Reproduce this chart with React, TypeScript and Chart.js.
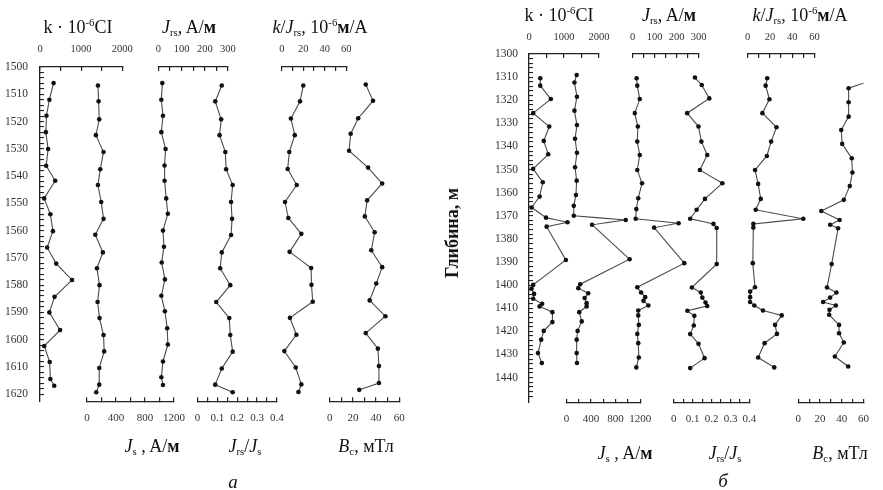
import React, { useEffect, useRef } from 'react';
import { Chart, registerables } from 'chart.js';

Chart.register(...registerables);

// ---------------- Panel а : depth 1500–1620 m ----------------
const a_k_depth = [1505.9, 1512, 1517.9, 1523.9, 1530.1, 1536.2, 1541.7, 1548.2, 1554, 1560.2, 1566.2, 1572.1, 1578.1, 1584.3, 1590, 1596.5, 1602.3, 1608.2, 1614.4, 1616.9];
const a_k = [331, 228, 157, 142, 197, 150, 370, 102, 252, 315, 173, 394, 780, 354, 228, 488, 102, 236, 252, 346];

const a_Js_depth = [1506.8, 1512.6, 1519.2, 1525, 1531.2, 1537.5, 1543.3, 1549.5, 1555.7, 1561.5, 1568, 1573.8, 1580, 1586.2, 1592.1, 1598.3, 1604.3, 1610.4, 1616.5, 1619.3];
const a_Js = [151, 160, 169, 123, 228, 183, 151, 196, 228, 114, 219, 137, 173, 146, 173, 228, 237, 169, 169, 128];

const a_Jrs_depth = [1505.9, 1512, 1517.9, 1523.9, 1530.1, 1536.1, 1541.7, 1548.2, 1553.8, 1560, 1565.9, 1571.7, 1577.9, 1583.9, 1589.6, 1595.8, 1601.8, 1608, 1613.8, 1616.6];
const a_Jrs = [16.8, 12.6, 19.6, 12.6, 30.8, 26.6, 26.6, 33.6, 40.7, 19.6, 23.8, 14, 28, 12.6, 28, 37.9, 40.7, 19.6, 12.6, 19.6];

const a_JJ_depth = [1506.8, 1512.6, 1519.2, 1525, 1531.2, 1537.5, 1543.3, 1549.5, 1555.7, 1561.6, 1568, 1573.8, 1580, 1586.2, 1592.1, 1598.3, 1604.4, 1610.6, 1616.5, 1619.3];
const a_JJ = [0.122, 0.089, 0.119, 0.111, 0.14, 0.144, 0.177, 0.169, 0.174, 0.169, 0.122, 0.114, 0.165, 0.094, 0.16, 0.165, 0.177, 0.122, 0.089, 0.177];

const a_kJ_depth = [1506.8, 1512.6, 1518.9, 1525, 1531.2, 1537.4, 1543.3, 1549.5, 1555.4, 1561.2, 1567.8, 1573.7, 1579.9, 1586.1, 1592, 1598.2, 1604.2, 1610.2, 1616.4, 1619.2];
const a_kJ = [20, 17, 8.5, 12.1, 7, 5.5, 13.9, 3, 6.1, 18.2, 7.3, 27.3, 27.6, 28.8, 7.6, 13.6, 2.4, 13, 18.2, 15.5];

const a_Bc_depth = [1506.4, 1512.4, 1518.8, 1524.5, 1530.7, 1536.9, 1542.7, 1548.9, 1554.8, 1560.6, 1567.2, 1573.4, 1579.4, 1585.6, 1591.4, 1597.6, 1603.3, 1609.7, 1615.9, 1618.4];
const a_Bc = [31.1, 37.4, 24.6, 18.1, 16.7, 33.1, 45.3, 32.3, 30.3, 38.8, 35.9, 45.3, 40.2, 34.5, 48.1, 31.1, 41.6, 42.5, 42.5, 25.5];

// ---------------- Panel б : depth 1300–1450 m ----------------
const b_k_depth = [1310.5, 1313.7, 1319.5, 1325.6, 1331.4, 1337.6, 1343.4, 1349.7, 1355.5, 1361.7, 1366.4, 1370.8, 1372.8, 1374.7, 1389.1, 1399.9, 1401.6, 1403.8, 1405.9, 1408.1, 1409.2, 1411.7, 1416, 1419.8, 1423.6, 1429.4, 1433.7];
const b_k = [322, 322, 624, 119, 578, 422, 550, 119, 394, 303, 73, 486, 1100, 503, 1054, 119, 73, 145, 119, 376, 303, 669, 669, 422, 349, 257, 367];

const b_Js_depth = [1309.1, 1312.3, 1318.5, 1324.5, 1330.7, 1336.7, 1342.7, 1349, 1354.8, 1361, 1365.7, 1370, 1371.8, 1373.9, 1388.8, 1399.6, 1401.3, 1403.5, 1405.6, 1407.8, 1409.2, 1411.7, 1415.7, 1419.8, 1423.6, 1429.4, 1433.7];
const b_Js = [167, 131, 172, 131, 172, 141, 172, 141, 167, 156, 120, 120, 965, 418, 1028, 225, 194, 355, 297, 329, 329, 209, 250, 183, 167, 167, 172];

const b_Jrs_depth = [1310.5, 1313.7, 1319.5, 1325.6, 1331.4, 1337.9, 1343.7, 1350.2, 1355.9, 1362.4, 1367.1, 1371.3, 1373.2, 1375.1, 1390.5, 1400.9, 1403.2, 1405.2, 1406.8, 1408.8, 1411, 1413.1, 1417.2, 1421.1, 1425.1, 1431.3, 1435.6];
const b_Jrs = [18.6, 21.6, 32.9, 10, 24.2, 21.6, 32.9, 21.6, 43.3, 26, 17.3, 14.3, 209, 97.9, 235, 21.6, 39, 57.6, 50, 71.9, 26, 26, 28.6, 21.6, 26, 28.6, 17.3];

const b_JJ_depth = [1310.2, 1313.4, 1319.2, 1325.6, 1331.4, 1337.9, 1343.7, 1350.2, 1355.9, 1362.7, 1367.4, 1371.3, 1373.5, 1375.3, 1390.9, 1401, 1403.2, 1405.4, 1407.5, 1409, 1411.1, 1413.3, 1417.5, 1421.2, 1425.4, 1431.6, 1435.9];
const b_JJ = [0.112, 0.148, 0.188, 0.071, 0.131, 0.146, 0.177, 0.138, 0.257, 0.165, 0.121, 0.087, 0.21, 0.227, 0.227, 0.096, 0.143, 0.151, 0.168, 0.177, 0.072, 0.109, 0.106, 0.087, 0.131, 0.163, 0.087];

const b_kJ_depth = [1310.5, 1313.7, 1319.6, 1325.6, 1331.7, 1337.9, 1344.1, 1350.2, 1356.2, 1362.7, 1367.4, 1371.3, 1373.5, 1375.1, 1390.5, 1400.9, 1402.8, 1405.2, 1407.3, 1408.8, 1411, 1413.1, 1417.2, 1421.1, 1425.1, 1431.3, 1435.6];
const b_kJ = [17.6, 16.2, 19.6, 13.3, 25.9, 21.1, 17.3, 6.7, 9.5, 11.8, 7.3, 49.9, 5.2, 5.2, 4.7, 6.7, 2.3, 2.3, 2.3, 6.1, 13.8, 30.6, 24.6, 26.3, 15.3, 9.5, 23.9];

const b_Bc_depth = [1312, 1314.8, 1320.9, 1327.1, 1332.9, 1338.9, 1345.1, 1351.3, 1357.1, 1363.1, 1367.9, 1371.8, 1373.9, 1375.4, 1390.9, 1401, 1403.2, 1405.4, 1407.3, 1408.8, 1410.7, 1412.8, 1417.2, 1420.8, 1424.8, 1430.9, 1435.2];
const b_Bc = [63.9, 46.3, 46.3, 46.3, 39.5, 40.4, 49.2, 49.8, 47.4, 41.9, 21.1, 38, 29.3, 36.6, 30.7, 26.4, 35.1, 29.3, 22.8, 34.5, 28.7, 28.4, 37.5, 37.5, 41.9, 33.6, 45.9];

// ---------------- Axis ranges / ticks ----------------
const k_range = [0, 2000]; const k_step = 500; const k_label = 1000;
const Jrs_range = [0, 300]; const Jrs_step = 50; const Jrs_label = 100;
const kJ_range = [0, 60]; const kJ_step = 10; const kJ_label = 20;
const Js_range = [0, 1200]; const Js_step = 200; const Js_label = 400;
const JJ_range = [0, 0.4]; const JJ_step = 0.05; const JJ_label = 0.1;
const Bc_range = [0, 60]; const Bc_step = 10; const Bc_label = 20;
const depthA_range = [1500, 1620];
const depthB_range = [1300, 1450];
const depth_step = 2; const depth_label = 10;

const AXES: Record<string, { range: number[]; step: number; label: number }> = {
  k: { range: k_range, step: k_step, label: k_label },
  Jrs: { range: Jrs_range, step: Jrs_step, label: Jrs_label },
  kJ: { range: kJ_range, step: kJ_step, label: kJ_label },
  Js: { range: Js_range, step: Js_step, label: Js_label },
  JJ: { range: JJ_range, step: JJ_step, label: JJ_label },
  Bc: { range: Bc_range, step: Bc_step, label: Bc_label },
};

// ---------------- Layout (pixels) ----------------
const SERIF = "'Liberation Serif', 'DejaVu Serif', 'Times New Roman', serif";
const INK = '#222';

const LAYOUT_A = {
  left: 0, width: 430,
  padding: { top: 37, bottom: 63, left: 0, right: 18 },
  yWidth: 40, yPad: 16, topPad: 15.4, bottomPad: 14,
  depth: depthA_range, extraBottom: 2.6,
  top: [['k', 84], [null, 37], ['Jrs', 71], [null, 55], ['kJ', 66], [null, 59]] as [string | null, number][],
  bottom: [[null, 48], ['Js', 89], [null, 24], ['JJ', 81], [null, 54], ['Bc', 71], [null, 5]] as [string | null, number][],
};
const LAYOUT_B = {
  left: 450, width: 450,
  padding: { top: 24, bottom: 57, left: 0, right: 10 },
  yWidth: 79, yPad: 15, topPad: 14, bottomPad: 14,
  depth: depthB_range, extraBottom: 1.0,
  top: [['k', 73], [null, 35], ['Jrs', 69], [null, 51], ['kJ', 70], [null, 63]] as [string | null, number][],
  bottom: [[null, 39], ['Js', 77], [null, 35], ['JJ', 79], [null, 51], ['Bc', 68], [null, 12]] as [string | null, number][],
};

const isMultiple = (v: number, m: number) => Math.abs(v / m - Math.round(v / m)) < 1e-6;
const fmt = (v: number) => String(Math.round(v * 100) / 100);

function axisOptions(key: string, position: 'top' | 'bottom', w: number, weight: number, pad: number) {
  const spec = AXES[key];
  return {
    type: 'linear', position, stack: position, stackWeight: w, weight,
    min: spec.range[0], max: spec.range[1],
    afterFit: (s: any) => { s.height = 30; },
    border: { display: true, color: INK, width: 1.3 },
    grid: { display: true, drawOnChartArea: false, drawTicks: true, tickLength: -4, color: INK, lineWidth: 1.2 },
    ticks: {
      stepSize: spec.step, autoSkip: false, maxRotation: 0, minRotation: 0, padding: pad,
      color: '#333', font: { family: SERIF, size: position === 'top' ? 10.5 : 11 },
      callback: (v: any) => (isMultiple(Number(v), spec.label) ? fmt(Number(v)) : ''),
    },
  };
}
function spacer(position: 'top' | 'bottom', w: number, weight: number) {
  return { type: 'linear', position, stack: position, stackWeight: w, weight, display: false, min: 0, max: 1 };
}

function buildScales(L: typeof LAYOUT_A) {
  const scales: any = {
    y: {
      type: 'linear', position: 'left', reverse: true,
      min: L.depth[0], max: L.depth[1] + L.extraBottom,
      afterFit: (s: any) => { s.width = L.yWidth; },
      afterBuildTicks: (s: any) => { s.ticks = s.ticks.filter((t: any) => t.value <= L.depth[1] + 1e-6); },
      border: { display: true, color: INK, width: 1.3 },
      grid: { display: true, drawOnChartArea: false, drawTicks: true, tickLength: -4, color: INK, lineWidth: 1.1 },
      ticks: {
        stepSize: depth_step, autoSkip: false, padding: L.yPad, color: '#333',
        font: { family: SERIF, size: 11.5 },
        callback: (v: any) => (isMultiple(Number(v), depth_label) ? String(Math.round(Number(v))) : ''),
      },
    },
  };
  L.top.forEach(([key, w], i) => {
    const weight = L.top.length - i;
    scales[key ? 'x_' + key : 'sp_top_' + i] = key ? axisOptions(key, 'top', w, weight, L.topPad) : spacer('top', w, weight);
  });
  L.bottom.forEach(([key, w], i) => {
    const weight = i + 1;
    scales[key ? 'x_' + key : 'sp_bot_' + i] = key ? axisOptions(key, 'bottom', w, weight, L.bottomPad) : spacer('bottom', w, weight);
  });
  return scales;
}

function series(key: string, depths: number[], values: number[]) {
  return {
    data: depths.map((d, i) => ({ x: values[i], y: d })),
    xAxisID: 'x_' + key, yAxisID: 'y',
    borderColor: '#4a4a4a', borderWidth: 1.1, tension: 0.00001, fill: false,
    pointRadius: 2.3, pointBackgroundColor: '#111', pointBorderWidth: 0, pointHoverRadius: 0,
  };
}

const DATA_A = [
  series('k', a_k_depth, a_k), series('Js', a_Js_depth, a_Js), series('Jrs', a_Jrs_depth, a_Jrs),
  series('JJ', a_JJ_depth, a_JJ), series('kJ', a_kJ_depth, a_kJ), series('Bc', a_Bc_depth, a_Bc),
];
const DATA_B = [
  series('k', b_k_depth, b_k), series('Js', b_Js_depth, b_Js), series('Jrs', b_Jrs_depth, b_Jrs),
  series('JJ', b_JJ_depth, b_JJ), series('kJ', b_kJ_depth, b_kJ), series('Bc', b_Bc_depth, b_Bc),
];

function Panel({ layout, datasets }: { layout: typeof LAYOUT_A; datasets: any[] }) {
  const ref = useRef<HTMLCanvasElement>(null);
  useEffect(() => {
    const chart = new Chart(ref.current as HTMLCanvasElement, {
      type: 'line',
      data: { datasets },
      options: {
        responsive: false, animation: false, devicePixelRatio: 1, events: [],
        layout: { padding: layout.padding },
        plugins: { legend: { display: false }, tooltip: { enabled: false } },
        scales: buildScales(layout),
      } as any,
    } as any);
    return () => chart.destroy();
  }, []);
  return (
    <canvas ref={ref} width={layout.width} height={490}
      style={{ position: 'absolute', left: layout.left, top: 0, width: layout.width, height: 490 }} />
  );
}

const sub = (t: string) => <sub style={{ fontSize: '0.6em', verticalAlign: '-0.3em', lineHeight: 0 }}>{t}</sub>;
const sup = (t: string) => <sup style={{ fontSize: '0.6em', verticalAlign: '0.65em', lineHeight: 0 }}>{t}</sup>;

function Label({ x, y, children, size = 18, bold = false, italic = false, rotate = 0 }: any) {
  return (
    <div style={{
      position: 'absolute', left: x, top: y, whiteSpace: 'nowrap', lineHeight: 1,
      transform: `translate(-50%, -50%)${rotate ? ` rotate(${rotate}deg)` : ''}`,
      fontFamily: SERIF, fontSize: size, color: '#111',
      fontWeight: bold ? 700 : 400, fontStyle: italic ? 'italic' : 'normal',
    }}>{children}</div>
  );
}

const kTitle = <>k · 10{sup('-6')}CI</>;
const JrsTitle = <><i>J</i>{sub('rs')}, A/<b>м</b></>;
const kJTitle = <><i>k</i>/<i>J</i>{sub('rs')}, 10{sup('-6')}<b>м</b>/A</>;
const JsTitle = <><i>J</i>{sub('s')} , A/<b>м</b></>;
const JJTitle = <><i>J</i>{sub('rs')}/<i>J</i>{sub('s')}</>;
const BcTitle = <><i>B</i>{sub('c')}, мТл</>;

export default function App() {
  return (
    <div style={{ position: 'absolute', left: 0, top: 0, width: 883, height: 490, overflow: 'hidden', background: '#fff' }}>
      <Panel layout={LAYOUT_A} datasets={DATA_A} />
      <Panel layout={LAYOUT_B} datasets={DATA_B} />

      <Label x={78} y={27}>{kTitle}</Label>
      <Label x={189} y={27}>{JrsTitle}</Label>
      <Label x={320} y={27}>{kJTitle}</Label>
      <Label x={152} y={446}>{JsTitle}</Label>
      <Label x={245} y={446}>{JJTitle}</Label>
      <Label x={366} y={446}>{BcTitle}</Label>
      <Label x={233} y={481} italic size={19}>а</Label>

      <Label x={559} y={15}>{kTitle}</Label>
      <Label x={669} y={15}>{JrsTitle}</Label>
      <Label x={800} y={15}>{kJTitle}</Label>
      <Label x={625} y={453}>{JsTitle}</Label>
      <Label x={725} y={453}>{JJTitle}</Label>
      <Label x={840} y={453}>{BcTitle}</Label>
      <Label x={723} y={480} italic size={19}>б</Label>

      <Label x={452} y={233} bold size={18} rotate={-90}>Глибина, м</Label>
    </div>
  );
}
